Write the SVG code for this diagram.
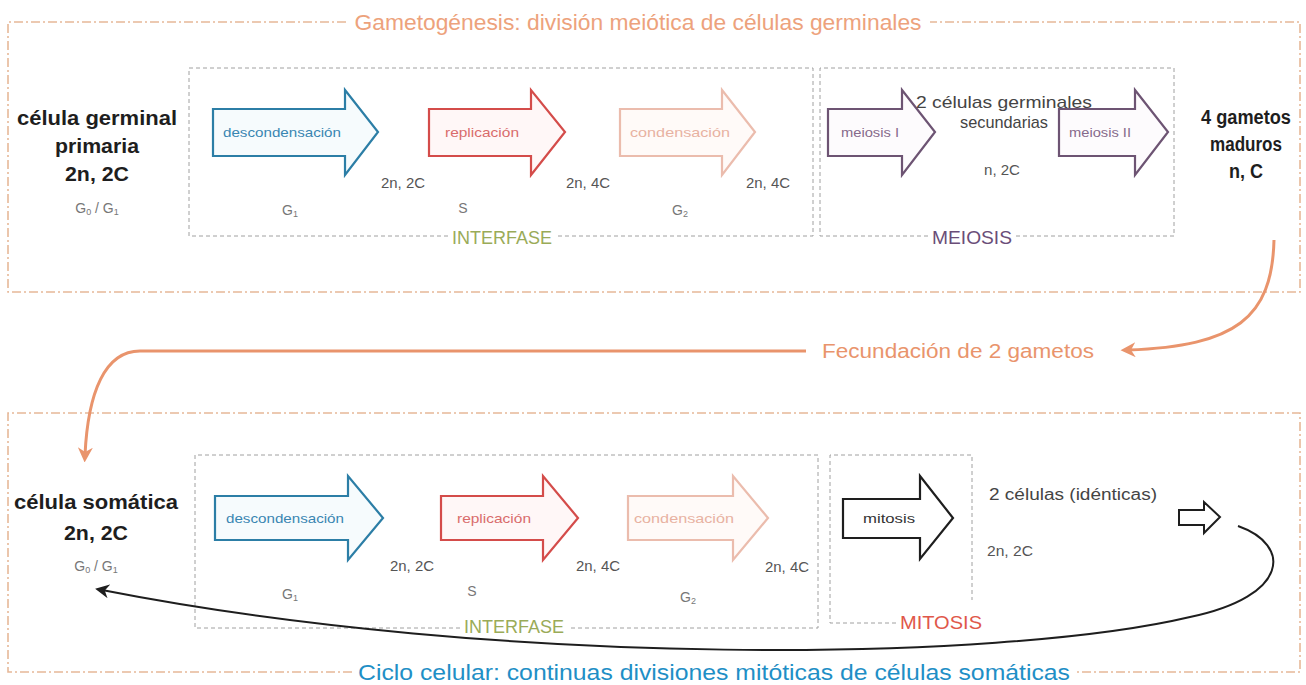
<svg xmlns="http://www.w3.org/2000/svg" width="1306" height="685" viewBox="0 0 1306 685">
<defs>
<style>
text{font-family:"Liberation Sans Narrow","Liberation Sans",Arial,sans-serif;text-anchor:middle;dominant-baseline:central}
.outer{fill:none;stroke:#e6b898;stroke-width:1.6;stroke-dasharray:9 3 2 3}
.inner{fill:none;stroke:#a0a0a0;stroke-width:1;stroke-dasharray:4 3}
.big{font-size:20px;font-weight:bold;fill:#1e1e1e}
.sm{font-size:14px;fill:#555}
.g{font-size:14px;fill:#777}
.title{font-size:22px}
.lab{font-size:13px}
.arr{stroke-width:2.2;stroke-linejoin:miter}
.blue{stroke:#2c7ea6;fill:#f6fbfd}
.red{stroke:#d44c4a;fill:#fff7f7}
.pink{stroke:#ebbcad;fill:#fffaf8}
.purp{stroke:#6d5473;fill:#fdfbfd}
.blk{stroke:#1e1e1e;fill:#fff}
.conn-o{fill:none;stroke:#e9946c;stroke-width:3}
.conn-k{fill:none;stroke:#1e1e1e;stroke-width:2}
</style>
<marker id="ao" viewBox="0 0 10 10" refX="5" refY="5" markerWidth="5" markerHeight="5" orient="auto" markerUnits="strokeWidth"><path d="M0,0 L10,5 L0,10 L3,5 Z" fill="#e9946c"/></marker>
<marker id="ak" viewBox="0 0 10 10" refX="5" refY="5" markerWidth="7" markerHeight="7" orient="auto" markerUnits="strokeWidth"><path d="M0,0 L10,5 L0,10 L3,5 Z" fill="#1e1e1e"/></marker>
</defs>
<rect width="1306" height="685" fill="#fff"/>

<g id="gametogenesis-frame">
<path class="outer" d="M346,22 H8 V292 H1300 V22 H930"/>
<text class="title" x="638" y="22" fill="#eda27c" textLength="567" lengthAdjust="spacingAndGlyphs">Gametogénesis: división meiótica de células germinales</text>
</g>

<g id="interfase-top">
<path class="inner" d="M448,236 H189 V68 H813 V236 H556"/>
<text x="502" y="237" font-size="19" fill="#9aab58" textLength="100" lengthAdjust="spacingAndGlyphs">INTERFASE</text>
</g>
<g id="meiosis-box">
<path class="inner" d="M928,236 H820 V68 H1174 V236 H1016"/>
<text x="972" y="237" font-size="19" fill="#6a4d78" textLength="80" lengthAdjust="spacingAndGlyphs">MEIOSIS</text>
</g>

<g id="celula-germinal">
<text class="big" x="97" y="118" textLength="160" lengthAdjust="spacingAndGlyphs">célula germinal</text>
<text class="big" x="97" y="146" textLength="84" lengthAdjust="spacingAndGlyphs">primaria</text>
<text class="big" x="97" y="174" textLength="64" lengthAdjust="spacingAndGlyphs">2n, 2C</text>
<text class="g" x="97" y="208">G<tspan font-size="9" dy="4">0</tspan><tspan dy="-4"> / G</tspan><tspan font-size="9" dy="4">1</tspan></text>
</g>

<g id="descondensacion-top">
<path class="arr blue" d="M213,109 H345 V90 L378,132 L345,175 V156 H213 Z"/>
<text class="lab" x="282" y="132" fill="#3a86b2" textLength="118" lengthAdjust="spacingAndGlyphs">descondensación</text>
</g>
<g id="replicacion-top">
<path class="arr red" d="M429,109 H531 V90 L565,132 L531,175 V156 H429 Z"/>
<text class="lab" x="482" y="132" fill="#d96c6c" textLength="74" lengthAdjust="spacingAndGlyphs">replicación</text>
</g>
<g id="condensacion-top">
<path class="arr pink" d="M620,109 H722 V90 L755,132 L722,175 V156 H620 Z"/>
<text class="lab" x="680" y="132" fill="#e8b2a2" textLength="100" lengthAdjust="spacingAndGlyphs">condensación</text>
</g>
<g id="meiosis1">
<path class="arr purp" d="M828,109 H902 V90 L935,132 L902,175 V156 H828 Z"/>
<text class="lab" x="870" y="132" fill="#866a8b" textLength="58" lengthAdjust="spacingAndGlyphs">meiosis I</text>
</g>
<g id="meiosis2">
<path class="arr purp" d="M1059,109 H1135 V90 L1168,132 L1135,175 V156 H1059 Z"/>
<text class="lab" x="1100" y="132" fill="#866a8b" textLength="62" lengthAdjust="spacingAndGlyphs">meiosis II</text>
</g>

<g id="top-labels">
<text class="sm" x="403" y="183" textLength="44" lengthAdjust="spacingAndGlyphs">2n, 2C</text>
<text class="sm" x="588" y="183" textLength="44" lengthAdjust="spacingAndGlyphs">2n, 4C</text>
<text class="sm" x="768" y="183" textLength="44" lengthAdjust="spacingAndGlyphs">2n, 4C</text>
<text class="g" x="290" y="210">G<tspan font-size="9" dy="4">1</tspan></text>
<text class="g" x="463" y="208">S</text>
<text class="g" x="680" y="210">G<tspan font-size="9" dy="4">2</tspan></text>
<text x="1004" y="102" font-size="17" fill="#444" textLength="176" lengthAdjust="spacingAndGlyphs">2 células germinales</text>
<text x="1004" y="122" font-size="17" fill="#444" textLength="88" lengthAdjust="spacingAndGlyphs">secundarias</text>
<text class="sm" x="1002" y="170" textLength="36" lengthAdjust="spacingAndGlyphs">n, 2C</text>
</g>

<g id="gametos-maduros">
<text class="big" x="1246" y="117" textLength="90" lengthAdjust="spacingAndGlyphs">4 gametos</text>
<text class="big" x="1246" y="144" textLength="72" lengthAdjust="spacingAndGlyphs">maduros</text>
<text class="big" x="1246" y="171" textLength="34" lengthAdjust="spacingAndGlyphs">n, C</text>
</g>

<g id="fecundacion">
<text x="958" y="351" font-size="20" fill="#e9946c" textLength="272" lengthAdjust="spacingAndGlyphs">Fecundación de 2 gametos</text>
</g>

<g id="ciclo-frame">
<path class="outer" d="M352,672 H8 V413 H1300 V672 H1077"/>
<text class="title" x="714" y="672" fill="#1f8fc6" textLength="712" lengthAdjust="spacingAndGlyphs">Ciclo celular: continuas divisiones mitóticas de células somáticas</text>
</g>

<g id="interfase-bottom">
<path class="inner" d="M460,628 H195 V455 H818 V628 H568"/>
<text x="514" y="626" font-size="19" fill="#9aab58" textLength="100" lengthAdjust="spacingAndGlyphs">INTERFASE</text>
</g>
<g id="mitosis-box">
<path class="inner" d="M896,623 H830 V455 H972 V600"/>
<text x="941" y="622" font-size="19" fill="#e0574a" textLength="82" lengthAdjust="spacingAndGlyphs">MITOSIS</text>
</g>

<g id="celula-somatica">
<text class="big" x="96" y="502" textLength="164" lengthAdjust="spacingAndGlyphs">célula somática</text>
<text class="big" x="96" y="533" textLength="64" lengthAdjust="spacingAndGlyphs">2n, 2C</text>
<text class="g" x="96" y="566">G<tspan font-size="9" dy="4">0</tspan><tspan dy="-4"> / G</tspan><tspan font-size="9" dy="4">1</tspan></text>
</g>

<g id="descondensacion-bottom">
<path class="arr blue" d="M215,496 H348 V476 L383,518 L348,560 V540 H215 Z"/>
<text class="lab" x="285" y="518" fill="#3a86b2" textLength="118" lengthAdjust="spacingAndGlyphs">descondensación</text>
</g>
<g id="replicacion-bottom">
<path class="arr red" d="M441,496 H543 V476 L578,518 L543,560 V540 H441 Z"/>
<text class="lab" x="494" y="518" fill="#d96c6c" textLength="74" lengthAdjust="spacingAndGlyphs">replicación</text>
</g>
<g id="condensacion-bottom">
<path class="arr pink" d="M628,496 H733 V476 L768,518 L733,560 V540 H628 Z"/>
<text class="lab" x="684" y="518" fill="#e8b2a2" textLength="100" lengthAdjust="spacingAndGlyphs">condensación</text>
</g>
<g id="mitosis">
<path class="arr blk" d="M843,499 H920 V476 L953,518 L920,559 V538 H843 Z"/>
<text class="lab" x="889" y="518" fill="#333" textLength="52" lengthAdjust="spacingAndGlyphs">mitosis</text>
</g>

<g id="bottom-labels">
<text class="sm" x="412" y="566" textLength="44" lengthAdjust="spacingAndGlyphs">2n, 2C</text>
<text class="sm" x="598" y="566" textLength="44" lengthAdjust="spacingAndGlyphs">2n, 4C</text>
<text class="sm" x="787" y="567" textLength="44" lengthAdjust="spacingAndGlyphs">2n, 4C</text>
<text class="g" x="290" y="594">G<tspan font-size="9" dy="4">1</tspan></text>
<text class="g" x="472" y="591">S</text>
<text class="g" x="688" y="597">G<tspan font-size="9" dy="4">2</tspan></text>
<text x="1073" y="494" font-size="16" fill="#444" textLength="168" lengthAdjust="spacingAndGlyphs">2 células (idénticas)</text>
<text class="sm" x="1010" y="551" textLength="46" lengthAdjust="spacingAndGlyphs">2n, 2C</text>
</g>

<g id="hueco-arrow">
<path fill="#fff" stroke="#1e1e1e" stroke-width="2" d="M1179,510 H1204 V502 L1220,517 L1204,533 V525 H1179 Z"/>
</g>

<g id="connectors">
<path class="conn-o" d="M1274,240 C1272,318 1236,346 1128,350" marker-end="url(#ao)"/>
<path class="conn-o" d="M806,351 H140 C105,351 88,392 85,455" marker-end="url(#ao)"/>
<path class="conn-k" d="M1238,526 C1292,545 1290,596 1190,617 C1000,662 500,668 102,590" marker-end="url(#ak)"/>
</g>
</svg>
